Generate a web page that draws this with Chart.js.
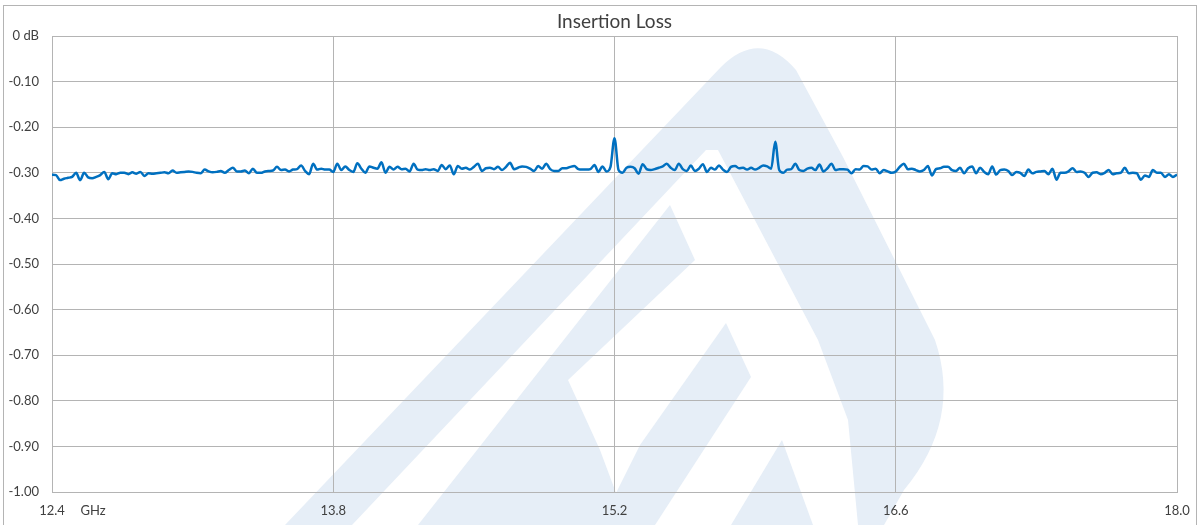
<!DOCTYPE html>
<html>
<head>
<meta charset="utf-8">
<script src="https://cdn.jsdelivr.net/npm/chart.js@4.4.1/dist/chart.umd.min.js"></script>
<style>
  html, body { margin: 0; padding: 0; background: #fff; }
</style>
</head>
<body>
<canvas id="chart" width="1202" height="525"></canvas>
<script>
// sweep 12.4 .. 18.0 GHz, 281 points
const fStart = 12.4;
const fStop = 18.0;
const xTicks = [12.4, 13.8, 15.2, 16.6, 18.0];
const yTicks = [0, -0.1, -0.2, -0.3, -0.4, -0.5, -0.6, -0.7, -0.8, -0.9, -1.0];

// insertion loss, dB
const lossDb = [
  -0.304,-0.305,-0.316,-0.313,-0.311,-0.309,-0.300,-0.316,-0.300,-0.310,
  -0.312,-0.309,-0.305,-0.298,-0.314,-0.301,-0.303,-0.300,-0.300,-0.303,
  -0.299,-0.302,-0.298,-0.307,-0.301,-0.302,-0.301,-0.300,-0.299,-0.301,
  -0.295,-0.300,-0.299,-0.298,-0.297,-0.298,-0.300,-0.301,-0.293,-0.297,
  -0.299,-0.298,-0.296,-0.300,-0.294,-0.289,-0.297,
  -0.297,-0.295,-0.301,-0.291,-0.300,-0.300,-0.297,-0.296,-0.295,-0.287,
  -0.294,-0.293,-0.297,-0.293,-0.292,-0.284,-0.296,-0.303,-0.280,-0.293,
  -0.291,-0.293,-0.293,-0.298,-0.280,-0.294,-0.286,-0.294,-0.298,-0.279,
  -0.291,-0.300,-0.286,-0.289,-0.291,-0.277,-0.300,-0.287,-0.293,-0.287,
  -0.292,-0.291,-0.297,-0.280,-0.293,-0.294,-0.292,
  -0.294,-0.292,-0.296,-0.283,-0.292,-0.284,-0.303,-0.285,-0.291,-0.289,
  -0.293,-0.287,-0.280,-0.296,-0.290,-0.289,-0.292,-0.287,-0.294,-0.287,
  -0.278,-0.292,-0.289,-0.286,-0.287,-0.291,-0.296,-0.285,-0.291,-0.280,
  -0.292,-0.296,-0.296,-0.290,-0.290,-0.287,-0.285,-0.292,-0.293,-0.293,
  -0.292,-0.283,-0.298,-0.286,-0.297,-0.287,-0.224,
  -0.294,-0.300,-0.289,-0.287,-0.290,-0.302,-0.281,-0.292,-0.294,-0.292,
  -0.289,-0.286,-0.280,-0.289,-0.294,-0.280,-0.292,-0.296,-0.284,-0.296,
  -0.291,-0.281,-0.298,-0.289,-0.293,-0.284,-0.293,-0.298,-0.287,-0.285,
  -0.290,-0.289,-0.293,-0.289,-0.293,-0.289,-0.284,-0.286,-0.291,-0.232,
  -0.294,-0.300,-0.293,-0.292,-0.280,-0.294,-0.296,-0.291,
  -0.289,-0.294,-0.282,-0.297,-0.290,-0.280,-0.294,-0.292,-0.292,-0.293,
  -0.301,-0.292,-0.293,-0.285,-0.286,-0.293,-0.291,-0.301,-0.294,-0.297,
  -0.300,-0.297,-0.287,-0.280,-0.292,-0.291,-0.294,-0.297,-0.294,-0.285,
  -0.306,-0.292,-0.290,-0.287,-0.287,-0.294,-0.296,-0.289,-0.301,-0.290,
  -0.286,-0.301,-0.289,-0.298,-0.303,-0.286,-0.304,
  -0.294,-0.293,-0.296,-0.305,-0.298,-0.300,-0.307,-0.293,-0.301,-0.298,
  -0.297,-0.296,-0.303,-0.291,-0.315,-0.300,-0.300,-0.297,-0.290,-0.298,
  -0.297,-0.300,-0.309,-0.300,-0.299,-0.303,-0.300,-0.294,-0.303,-0.301,
  -0.300,-0.289,-0.301,-0.300,-0.301,-0.315,-0.306,-0.309,-0.294,-0.300,
  -0.300,-0.309,-0.303,-0.309,-0.304
];

const step = (fStop - fStart) / (lossDb.length - 1);
const points = lossDb.map((v, i) => ({ x: fStart + i * step, y: v }));

const gridCol = '#b4b4b4';
const textCol = '#404040';
const font = 'Lato, "Open Sans", sans-serif';

function poly(c, pts) {
  c.moveTo(pts[0][0], pts[0][1]);
  for (let i = 1; i < pts.length; i++) c.lineTo(pts[i][0], pts[i][1]);
  c.closePath();
}

// light logo behind the plot, outer frame, title and unit
const decor = {
  id: 'decor',
  beforeDraw(chart) {
    const c = chart.ctx;
    c.save();
    c.fillStyle = '#fff';
    c.fillRect(0, 0, chart.width, chart.height);

    c.fillStyle = '#e6eef7';
    c.beginPath();
    c.moveTo(285, 525);
    c.lineTo(721, 67);
    c.quadraticCurveTo(760, 28, 796, 70);
    c.lineTo(843, 157);
    c.lineTo(935, 340);
    c.quadraticCurveTo(962, 420, 904, 490);
    c.lineTo(884, 525);
    c.closePath();
    poly(c, [[352, 525], [706, 150], [718, 150], [818, 340], [848, 420], [858, 525]]);
    c.fill('evenodd');

    c.beginPath();
    poly(c, [[670, 205], [695, 260], [568, 380], [600, 450], [628, 525], [418, 525]]);
    c.fill();
    c.beginPath();
    poly(c, [[726, 323], [751, 377], [655, 525], [600, 525], [640, 445]]);
    c.fill();
    c.beginPath();
    poly(c, [[782, 440], [813, 525], [731, 525]]);
    c.fill();

    c.strokeStyle = gridCol;
    c.lineWidth = 1;
    c.strokeRect(3.5, 5.5, 1193, 540);
    c.restore();
  },
  afterDraw(chart) {
    const c = chart.ctx;
    const a = chart.chartArea;
    c.save();
    c.fillStyle = textCol;
    c.textAlign = 'center';
    c.textBaseline = 'middle';
    c.font = '19px ' + font;
    c.fillText('Insertion Loss', (a.left + a.right) / 2, 22);
    c.font = '13px ' + font;
    c.fillText('GHz', 93, 511);
    c.restore();
  }
};

new Chart(document.getElementById('chart'), {
  type: 'line',
  data: {
    datasets: [{
      label: 'Insertion Loss',
      data: points,
      borderColor: '#0070c0',
      borderWidth: 2.5,
      pointRadius: 0,
      cubicInterpolationMode: 'monotone',
      fill: false
    }]
  },
  options: {
    responsive: false,
    animation: false,
    devicePixelRatio: 1,
    layout: { padding: { left: 0, right: 25, top: 36, bottom: 0 } },
    plugins: {
      legend: { display: false },
      tooltip: { enabled: false },
      title: { display: false }
    },
    scales: {
      x: {
        type: 'linear',
        min: fStart,
        max: fStop,
        afterBuildTicks: s => { s.ticks = xTicks.map(v => ({ value: v })); },
        afterFit: s => { s.height = 33; },
        ticks: {
          color: textCol,
          font: { family: font, size: 13 },
          padding: 11,
          maxRotation: 0,
          callback: v => v.toFixed(1)
        },
        grid: { color: gridCol, lineWidth: 1, drawTicks: false },
        border: { color: gridCol }
      },
      y: {
        min: -1,
        max: 0,
        afterBuildTicks: s => { s.ticks = yTicks.map(v => ({ value: v })); },
        afterFit: s => { s.width = 52; },
        ticks: {
          color: textCol,
          font: { family: font, size: 13 },
          padding: 13,
          callback: v => v === 0 ? '0 dB' : v.toFixed(2)
        },
        grid: { color: gridCol, lineWidth: 1, drawTicks: false },
        border: { color: gridCol }
      }
    }
  },
  plugins: [decor]
});
</script>
</body>
</html>
